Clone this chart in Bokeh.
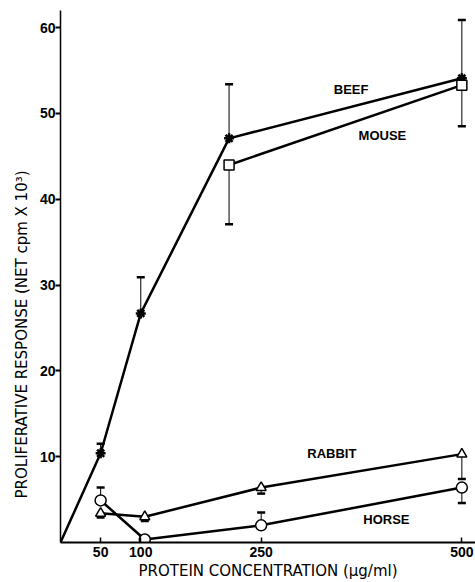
from bokeh.plotting import figure
from bokeh.models import FixedTicker, Range1d, Title
from bokeh.embed import file_html
from bokeh.resources import INLINE
from bokeh.core.properties import value

# ---- data ----
x_ticks = [50, 100, 250, 500]
y_ticks = [10, 20, 30, 40, 50, 60]

beef_x = [0, 50, 100, 210, 500]
beef_y = [0, 10.4, 26.7, 47.1, 54.1]
beef_err_x = [50, 100, 210, 500]
beef_err_base = [10.4, 26.7, 47.1, 54.1]
beef_err_hi = [11.5, 30.9, 53.4, 60.9]

mouse_x = [210, 500]
mouse_y = [44.0, 53.3]
mouse_err_lo = [37.1, 48.5]

rabbit_x = [50, 105, 250, 500]
rabbit_y = [3.4, 3.0, 6.4, 10.3]
rabbit_err_lo = [2.9, 2.5, 5.7, 7.4]

horse_x = [50, 105, 250, 500]
horse_y = [4.9, 0.35, 2.0, 6.4]
horse_err_x = [50, 250, 500]
horse_err_base = [4.9, 2.0, 6.4]
horse_err_end = [6.4, 3.5, 4.6]

labels = ["BEEF", "MOUSE", "RABBIT", "HORSE"]
label_x = [362, 401, 338, 406]
label_y = [52.8, 47.4, 10.4, 2.7]

x_title = "PROTEIN CONCENTRATION (\u03bcg/ml)"
y_title = "PROLIFERATIVE RESPONSE (NET cpm X 10\u00b3)"

FONT = "Liberation Sans"
TITLE_FONT = "DejaVu Sans"

p = figure(width=475, height=582, output_backend="svg", toolbar_location=None,
           x_range=Range1d(0, 517), y_range=Range1d(0, 62),
           min_border_left=60, min_border_right=0, min_border_top=10,
           min_border_bottom=40)
p.outline_line_color = None
p.xgrid.visible = False
p.ygrid.visible = False
p.background_fill_color = "white"

# axes
p.xaxis.ticker = FixedTicker(ticks=x_ticks)
p.yaxis.ticker = FixedTicker(ticks=y_ticks)
p.xaxis.minor_tick_line_color = None
p.yaxis.minor_tick_line_color = None
p.xaxis.major_tick_in = 5
p.xaxis.major_tick_out = 0
p.yaxis.major_tick_in = 0
p.yaxis.major_tick_out = 5
p.xaxis.axis_line_width = 2
p.yaxis.axis_line_width = 1.5
p.xaxis.major_tick_line_width = 1.5
p.yaxis.major_tick_line_width = 2
for ax in (p.xaxis, p.yaxis):
    ax.axis_line_color = "black"
    ax.major_tick_line_color = "black"
    ax.major_label_text_font = FONT
    ax.major_label_text_font_style = "bold"
    ax.major_label_text_font_size = "14px"
    ax.major_label_text_color = "black"
p.xaxis.axis_label_text_font = TITLE_FONT
p.xaxis.axis_label_text_font_style = "normal"
p.xaxis.axis_label_text_font_size = "15px"
p.xaxis.axis_label_text_color = "black"
p.xaxis.major_label_standoff = 4
p.yaxis.major_label_standoff = 0
p.xaxis.axis_label = x_title
p.xaxis.axis_label_standoff = 2

# y-axis title as a side title, aligned to sit where the reference has it
p.add_layout(Title(text=y_title, align="left", offset=44, standoff=12,
                   text_font=TITLE_FONT, text_font_style="normal",
                   text_font_size="15px", text_color="black"), "left")

# error bars (thin stems with thick caps)
def errbars(xs, y0, y1):
    p.segment(x0=xs, y0=y0, x1=xs, y1=y1, line_color="black", line_width=1)
    p.scatter(xs, y1, marker="dash", size=8, line_color="black", line_width=2.5)

errbars(beef_err_x, beef_err_base, beef_err_hi)
errbars(mouse_x, mouse_y, mouse_err_lo)
errbars(rabbit_x, rabbit_y, rabbit_err_lo)
errbars(horse_err_x, horse_err_base, horse_err_end)

# series lines
for xs, ys in ((beef_x, beef_y), (mouse_x, mouse_y), (rabbit_x, rabbit_y), (horse_x, horse_y)):
    p.line(xs, ys, line_color="black", line_width=2.5)

# markers
p.scatter(beef_x[1:], beef_y[1:], marker="asterisk", size=10, line_color="black", line_width=2.5)
p.scatter(mouse_x, mouse_y, marker="square", size=10, fill_color="white", line_color="black", line_width=1.5)
p.scatter(rabbit_x, rabbit_y, marker="triangle", size=10, fill_color="white", line_color="black", line_width=1.5)
p.scatter(horse_x, horse_y, marker="circle", size=11, fill_color="white", line_color="black", line_width=1.5)

# series labels
p.text(x=label_x, y=label_y, text=labels, text_font=value(FONT), text_font_style="bold",
       text_font_size="13px", text_color="black", text_align="center", text_baseline="middle")

open("out.html", "w").write(file_html(p, INLINE))
